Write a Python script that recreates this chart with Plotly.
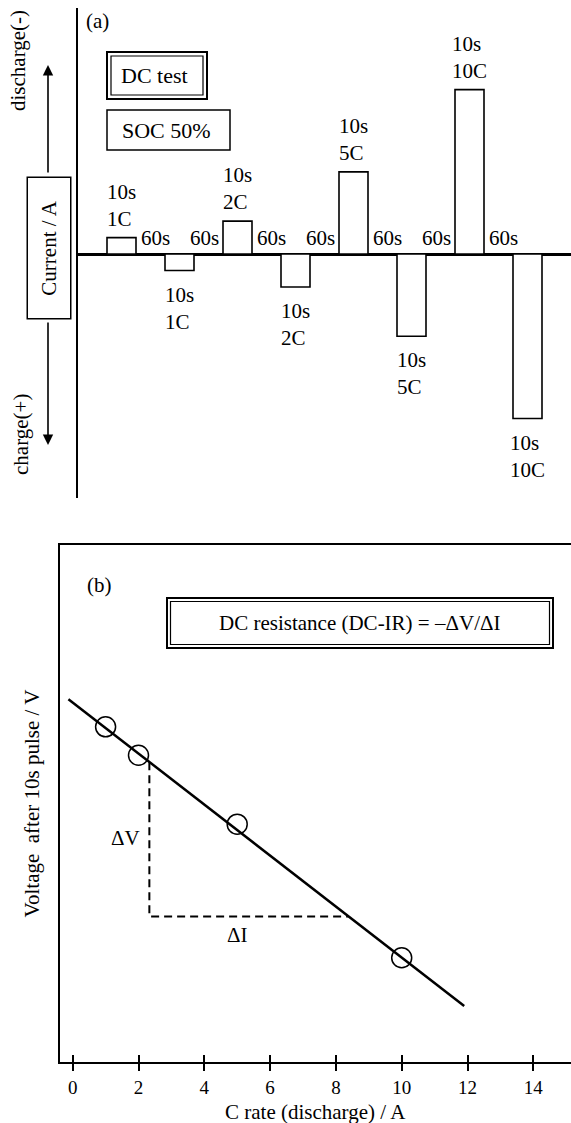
import plotly.graph_objects as go

W, H = 571, 1123
FONT = "Liberation Serif"

# ---------------- Data: panel (a) ----------------
pulse_index = [0, 1, 2, 3, 4, 5, 6, 7]
pulse_current = [1, -1, 2, -2, 5, -5, 10, -10]      # C-rate (discharge +, charge -)
pulse_labels = ["10s<br>1C", "10s<br>1C", "10s<br>2C", "10s<br>2C",
                "10s<br>5C", "10s<br>5C", "10s<br>10C", "10s<br>10C"]
rest_label = "60s"

# ---------------- Data: panel (b) ----------------
c_rate = [1, 2, 5, 10]
voltage = [3.689, 3.656, 3.576, 3.421]
fit_x = [-0.13, 11.9]
fit_v = [3.721, 3.365]
delta_x = [2.33, 2.33, 8.38]
delta_v = [3.648, 3.469, 3.469]
xticks_b = [0, 2, 4, 6, 8, 10, 12, 14]


def P(px, py):
    return px / W, 1 - py / H


fig = go.Figure()

# ---- panel (a) bars
fig.add_trace(go.Bar(
    x=pulse_index, y=pulse_current, width=0.5,
    marker=dict(color="white", line=dict(color="black", width=1.6)),
    xaxis="x", yaxis="y", showlegend=False, hoverinfo="skip"))

# ---- panel (b) fit line, points, dashed construction
fig.add_trace(go.Scatter(
    x=fit_x, y=fit_v, mode="lines", line=dict(color="black", width=2.5),
    xaxis="x2", yaxis="y2", showlegend=False, hoverinfo="skip"))
fig.add_trace(go.Scatter(
    x=c_rate, y=voltage, mode="markers",
    marker=dict(symbol="circle-open", size=20, color="black", line=dict(width=1.5)),
    xaxis="x2", yaxis="y2", showlegend=False, hoverinfo="skip"))
fig.add_trace(go.Scatter(
    x=delta_x, y=delta_v, mode="lines",
    line=dict(color="black", width=2, dash="8px,5px"),
    xaxis="x2", yaxis="y2", showlegend=False, hoverinfo="skip"))

ann = []
tf = dict(family=FONT, size=21, color="black")

# pulse labels
for i, v, lab in zip(pulse_index, pulse_current, pulse_labels):
    if v > 0:
        ann.append(dict(x=i, y=v, xref="x", yref="y", text=lab, showarrow=False,
                        xanchor="center", yanchor="bottom", align="left", yshift=5,
                        font=tf))
    else:
        ann.append(dict(x=i, y=v, xref="x", yref="y", text=lab, showarrow=False,
                        xanchor="center", yanchor="top", align="left", yshift=-10,
                        font=tf))

# rest labels (between consecutive pulses, next to the discharge pulse)
for j in range(len(pulse_index) - 1):
    if pulse_current[j] > 0:
        ann.append(dict(x=pulse_index[j] + 0.25, y=0, xref="x", yref="y", text=rest_label,
                        showarrow=False, xanchor="left", yanchor="middle",
                        xshift=3, yshift=16, font=tf))
    else:
        ann.append(dict(x=pulse_index[j + 1] - 0.25, y=0, xref="x", yref="y", text=rest_label,
                        showarrow=False, xanchor="right", yanchor="middle",
                        xshift=-2, yshift=16, font=tf))

def txt(px, py, s, angle=0, size=21, **kw):
    x, y = P(px, py)
    d = dict(x=x, y=y, xref="paper", yref="paper", text=s, showarrow=False,
             textangle=angle, xanchor="center", yanchor="middle",
             font=dict(family=FONT, size=size, color="black"))
    d.update(kw)
    ann.append(d)

txt(98, 21, "(a)")
txt(154, 76, "DC test", size=22)
txt(166, 131, "SOC 50%", size=22)
txt(18, 61, "discharge(-)", angle=-90)
txt(21, 435, "charge(+)", angle=-90)
txt(49, 247.5, "Current / A", angle=-90, bordercolor="black", borderwidth=1.5,
    borderpad=2, width=136, height=38, bgcolor="white")

# arrows
for tip, tail in [((48, 65), (48, 174)), ((48, 445), (48, 321))]:
    x, y = P(*tip)
    ann.append(dict(x=x, y=y, xref="paper", yref="paper", text="", showarrow=True,
                    ax=0, ay=tail[1] - tip[1], arrowhead=2, arrowsize=1.3,
                    arrowwidth=1.6, arrowcolor="black"))

txt(99, 585, "(b)")
txt(360, 623, "DC resistance (DC-IR) = –ΔV/ΔI")
txt(31, 803.5, "Voltage  after 10s pulse / V", angle=-90)
txt(315, 1112, "C rate (discharge) / A")
ann.append(dict(x=1.59, y=3.56, xref="x2", yref="y2", text="ΔV", showarrow=False, font=tf))
ann.append(dict(x=5.02, y=3.447, xref="x2", yref="y2", text="ΔI", showarrow=False, font=tf))

# double-bordered boxes
shapes = []
def rect(x0, y0, x1, y1, w):
    a0, b1 = P(x0, y0)
    a1, b0 = P(x1, y1)
    shapes.append(dict(type="rect", xref="paper", yref="paper", x0=a0, x1=a1, y0=b0, y1=b1,
                       line=dict(color="black", width=w), fillcolor="rgba(0,0,0,0)"))

rect(107, 52, 207, 99, 2)
rect(111, 56, 203, 95, 1.2)
rect(107, 110, 230, 150, 1.5)
rect(167, 598, 553, 648, 2)
rect(170.5, 601.5, 549.5, 644.5, 1.2)

axis_off = dict(showgrid=False, zeroline=False, showticklabels=False, ticks="", showline=False)

fig.update_layout(
    width=W, height=H, margin=dict(l=0, r=0, t=0, b=0),
    paper_bgcolor="white", plot_bgcolor="rgba(0,0,0,0)",
    showlegend=False,
    xaxis=dict(domain=[78 / W, 1], range=[-0.75, 7.75], anchor="y", **axis_off),
    yaxis=dict(domain=[1 - 498 / H, 1 - 8 / H], range=[-14.83, 14.96], anchor="x",
               showgrid=False, showticklabels=False, ticks="",
               showline=True, linecolor="black", linewidth=2,
               zeroline=True, zerolinecolor="black", zerolinewidth=2.5),
    xaxis2=dict(domain=[60 / W, 1], range=[-0.386, 15.146], anchor="y2",
                showgrid=False, zeroline=False, showline=True, mirror=True,
                linecolor="black", linewidth=2, ticks="outside", ticklen=7,
                tickwidth=1.5, tickcolor="black", tickvals=xticks_b,
                tickfont=dict(family=FONT, size=19, color="black")),
    xaxis3=dict(domain=[60 / W, 1], range=[-0.386, 15.146], anchor="y2", overlaying="x2",
                showgrid=False, zeroline=False, showline=False, ticks="inside", ticklen=7,
                tickwidth=1.5, tickcolor="black", tickvals=xticks_b, showticklabels=False),
    yaxis2=dict(domain=[1 - 1062 / H, 1 - 545 / H], range=[3.30, 3.90], anchor="x2",
                showgrid=False, zeroline=False, showticklabels=False, ticks="",
                showline=True, linecolor="black", linewidth=2),
    annotations=ann, shapes=shapes,
)

# dummy trace to activate xaxis3
fig.add_trace(go.Scatter(x=[None], y=[None], xaxis="x3", yaxis="y2", showlegend=False,
                         hoverinfo="skip"))

fig.write_html("out.html")
